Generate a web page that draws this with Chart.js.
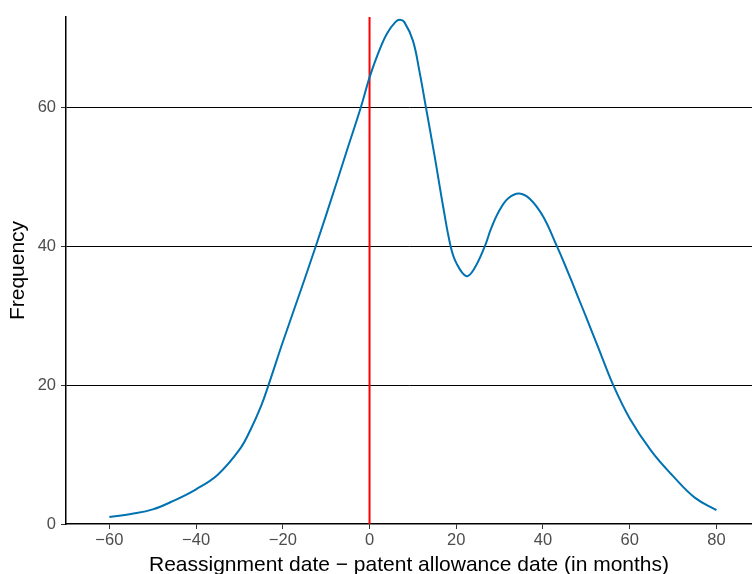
<!DOCTYPE html>
<html>
<head>
<meta charset="utf-8">
<script src="https://cdn.jsdelivr.net/npm/chart.js@4"></script>
<style>
  html, body { margin: 0; padding: 0; background: #fff; }
  #wrap { width: 752px; height: 574px; }
</style>
</head>
<body>
<div id="wrap"><canvas id="densityChart" width="752" height="574"></canvas></div>
<script>
// months between reassignment and allowance (x) and frequency (y)
const months = [-60, -55, -50, -45, -40, -35, -30, -27.5, -25, -23.3, -20, -15, -10, -5, -2, 0, 2, 4, 6, 7, 8, 10, 11.5, 13, 15, 17, 18.7, 20, 22.3, 24, 26.6, 28, 30, 32, 34.5, 37, 40, 43.2, 45, 48.2, 50, 52.5, 56.2, 60, 65, 70, 75, 80];
const frequency = [1.0, 1.45, 2.1, 3.4, 5.0, 7.1, 10.7, 13.5, 17.0, 20.0, 26.2, 35.2, 44.5, 54.2, 60.0, 64.3, 67.8, 70.6, 72.3, 72.6, 72.3, 69.6, 65.2, 60.0, 53.0, 45.6, 40.0, 37.6, 35.7, 36.6, 40.0, 42.5, 45.2, 46.9, 47.6, 46.8, 44.3, 40.0, 37.4, 32.5, 29.7, 25.8, 20.0, 15.2, 10.5, 6.9, 3.8, 2.0];
const allowanceLine = [0, 0]; // x position of the red reference line
const xTicks = [-60, -40, -20, 0, 20, 40, 60, 80];
const yTicks = [0, 20, 40, 60];

document.addEventListener("DOMContentLoaded", () => {
    const ctx = document.getElementById('densityChart').getContext('2d');
    const fontFamily = "'Liberation Sans', Arial, sans-serif";
    const minus = (v) => String(v).replace('-', '\u2212');

    new Chart(ctx, {
        type: 'line',
        data: {
            datasets: [{
                data: months.map((m, i) => ({ x: m, y: frequency[i] })),
                borderColor: '#0072B2',
                borderWidth: 2,
                pointRadius: 0,
                tension: 0.4,
                fill: false
            }, {
                data: allowanceLine.map((m, i) => ({ x: m, y: i === 0 ? 0 : 73 })),
                borderColor: '#ff0000',
                borderWidth: 2,
                pointRadius: 0,
                fill: false
            }]
        },
        options: {
            responsive: false,
            animation: false,
            layout: { padding: { top: 17, right: 0, left: 0, bottom: 0 } },
            plugins: {
                legend: { display: false },
                tooltip: { enabled: false }
            },
            scales: {
                x: {
                    type: 'linear',
                    min: -70,
                    max: 88.2,
                    afterBuildTicks: (scale) => { scale.ticks = xTicks.map(v => ({ value: v })); },
                    afterFit: (scale) => { scale.height = 50; },
                    border: { display: true, color: '#000', width: 1.5 },
                    grid: { drawOnChartArea: false, color: '#333', tickLength: 5, tickWidth: 1 },
                    ticks: {
                        color: '#4d4d4d',
                        font: { family: fontFamily, size: 16.5 },
                        padding: 2,
                        maxRotation: 0,
                        callback: (v) => minus(v)
                    },
                    title: {
                        display: true,
                        text: 'Reassignment date \u2212 patent allowance date (in months)',
                        color: '#000',
                        font: { family: fontFamily, size: 21, lineHeight: 0.84 },
                        padding: { top: 0, bottom: 0 }
                    }
                },
                y: {
                    type: 'linear',
                    min: 0,
                    max: 73,
                    afterBuildTicks: (scale) => { scale.ticks = yTicks.map(v => ({ value: v })); },
                    afterFit: (scale) => { scale.width = 66; },
                    border: { display: true, color: '#000', width: 1.5 },
                    grid: {
                        color: (c) => c.tick && c.tick.value === 0 ? 'rgba(0,0,0,0)' : '#000',
                        tickColor: '#333',
                        tickLength: 5,
                        lineWidth: 1
                    },
                    ticks: {
                        color: '#4d4d4d',
                        font: { family: fontFamily, size: 16.5 },
                        padding: 5
                    },
                    title: {
                        display: true,
                        text: 'Frequency',
                        color: '#000',
                        font: { family: fontFamily, size: 21, lineHeight: 1.2 },
                        padding: { top: 6, bottom: 0 }
                    }
                }
            }
        }
    });
});
</script>
</body>
</html>
